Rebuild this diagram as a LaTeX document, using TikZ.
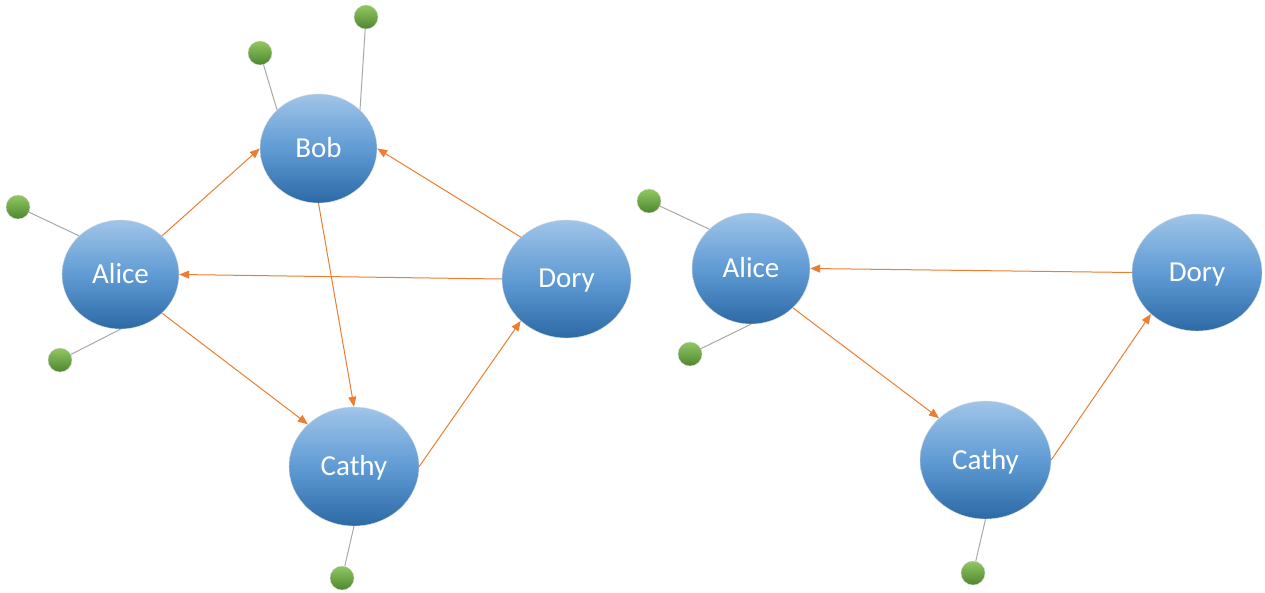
\documentclass[tikz,border=0pt]{standalone}
\usepackage{fontspec}
\setmainfont{Carlito}
\usetikzlibrary{shapes.geometric,arrows.meta}

\definecolor{nodetop}{RGB}{160,197,232}
\definecolor{nodemid}{RGB}{96,155,212}
\definecolor{nodebot}{RGB}{44,106,166}
\definecolor{dottop}{RGB}{146,200,98}
\definecolor{dotbot}{RGB}{78,134,48}
\definecolor{linkorange}{RGB}{237,125,49}
\definecolor{stemgray}{RGB}{168,168,168}

\tikzset{
  person/.style={ellipse, inner sep=0pt, top color=nodetop, bottom color=nodebot,
    middle color=nodemid, draw=white!75!gray, line width=0.4pt, text=white,
    font=\fontsize{29}{33}\selectfont, text height=20pt, text depth=2pt},
  bead/.style={circle, minimum size=24pt, inner sep=0pt, top color=dottop,
    bottom color=dotbot, draw=white!70!gray, line width=0.3pt},
  link/.style={draw=linkorange, line width=1pt, -{Triangle[length=10pt,width=8pt]}},
  stem/.style={draw=stemgray, line width=1pt},
}

\begin{document}
\begin{tikzpicture}[x=1pt,y=-1pt]
\useasboundingbox (0,0) rectangle (1265,593);

% ---- left graph ----
\node[person, minimum width=117pt, minimum height=109pt] (bobL)   at (318.5,148.5) {Bob};
\node[person, minimum width=117pt, minimum height=109pt] (aliceL) at (120.5,274.5) {Alice};
\node[person, minimum width=129pt, minimum height=118pt] (doryL)  at (566.5,279)   {Dory};
\node[person, minimum width=130pt, minimum height=119pt] (cathyL) at (354,466.5)   {Cathy};

\node[bead] (b1) at (366,17)  {};
\node[bead] (b2) at (260,53)  {};
\node[bead] (a1) at (18,207)  {};
\node[bead] (a2) at (60,360)  {};
\node[bead] (c1) at (342,578) {};

\draw[stem] (b1) -- (bobL.north east);
\draw[stem] (b2) -- (bobL.north west);
\draw[stem] (a1) -- (aliceL.north west);
\draw[stem] (a2) -- (aliceL.south);
\draw[stem] (c1) -- (cathyL.south);

\draw[link] (aliceL.north east) -- (bobL.west);
\draw[link] (doryL.north west)  -- (bobL.east);
\draw[link] (doryL.west)        -- (aliceL.east);
\draw[link] (bobL.south)        -- (cathyL.north);
\draw[link] (aliceL.south east) -- (cathyL.north west);
\draw[link] (cathyL.east)       -- (doryL.south west);

% ---- right graph ----
\node[person, minimum width=118pt, minimum height=111pt] (aliceR) at (751,268.5)  {Alice};
\node[person, minimum width=130pt, minimum height=117pt] (doryR)  at (1197,272.5) {Dory};
\node[person, minimum width=131pt, minimum height=118pt] (cathyR) at (985.5,460)  {Cathy};

\node[bead] (a3) at (649,201) {};
\node[bead] (a4) at (690,354) {};
\node[bead] (c2) at (973,573) {};

\draw[stem] (a3) -- (aliceR.north west);
\draw[stem] (a4) -- (aliceR.south);
\draw[stem] (c2) -- (cathyR.south);

\draw[link] (doryR.west)        -- (aliceR.east);
\draw[link] (aliceR.south east) -- (cathyR.north west);
\draw[link] (cathyR.east)       -- (doryR.south west);
\end{tikzpicture}
\end{document}
